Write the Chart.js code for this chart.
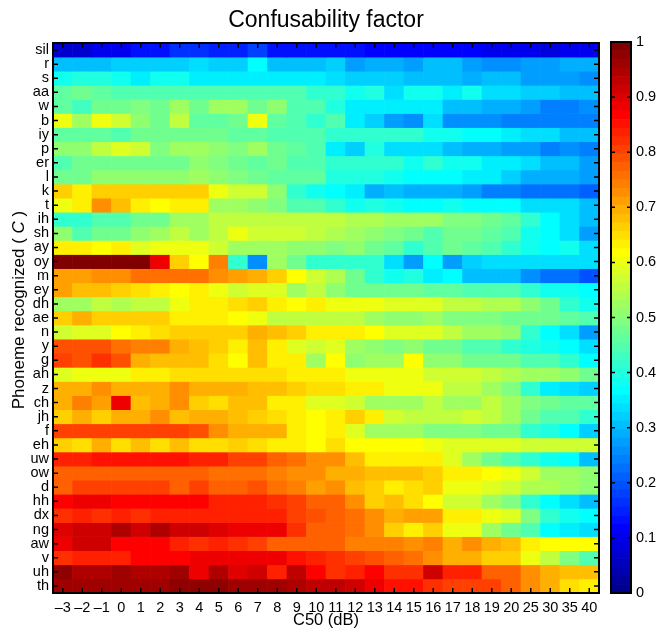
<!DOCTYPE html>
<html><head><meta charset="utf-8">
<script src="https://cdn.jsdelivr.net/npm/chart.js@4.4.0/dist/chart.umd.min.js"></script>
<style>
html,body{margin:0;padding:0;background:#fff;}
#wrap{position:relative;width:657px;height:630px;background:#fff;}
#heat{position:absolute;left:0;top:0;}
#cbar{position:absolute;left:600px;top:0;}
</style></head><body>
<div id="wrap"><canvas id="heat" width="657" height="630"></canvas><canvas id="cbar" width="57" height="630"></canvas></div>
<script>
// ---- data ----
const c50Labels = ['–3','–2','–1','0','1','2','3','4','5','6','7','8','9','10','11','12','13','14','15','16','17','18','19','20','25','30','35','40'];
const phonemes = ['sil','r','s','aa','w','b','iy','p','er','l','k','t','ih','sh','ay','oy','m','ey','dh','ae','n','y','g','ah','z','ch','jh','f','eh','uw','ow','d','hh','dx','ng','aw','v','uh','th'];
const cbarTicks = [0,0.1,0.2,0.3,0.4,0.5,0.6,0.7,0.8,0.9,1];

const ph_sil = [0.07,0.07,0.095,0.095,0.14,0.14,0.17,0.17,0.155,0.155,0.18,0.14,0.14,0.13,0.13,0.13,0.115,0.115,0.115,0.11,0.11,0.11,0.10,0.10,0.10,0.09,0.10,0.10];
const ph_r = [0.30,0.30,0.30,0.32,0.32,0.325,0.325,0.33,0.32,0.32,0.36,0.30,0.30,0.30,0.32,0.275,0.29,0.29,0.275,0.30,0.30,0.27,0.26,0.26,0.28,0.27,0.29,0.29];
const ph_s = [0.375,0.405,0.405,0.375,0.355,0.375,0.375,0.355,0.355,0.355,0.355,0.355,0.355,0.355,0.33,0.32,0.32,0.32,0.305,0.305,0.30,0.29,0.30,0.30,0.27,0.27,0.27,0.25];
const ph_aa = [0.455,0.47,0.455,0.45,0.44,0.45,0.45,0.45,0.45,0.45,0.44,0.44,0.44,0.42,0.42,0.375,0.40,0.34,0.375,0.375,0.35,0.375,0.34,0.33,0.32,0.32,0.30,0.30];
const ph_w = [0.455,0.43,0.48,0.47,0.49,0.47,0.52,0.48,0.52,0.52,0.47,0.5,0.44,0.44,0.40,0.355,0.355,0.355,0.355,0.355,0.30,0.30,0.285,0.285,0.275,0.235,0.235,0.26];
const ph_b = [0.6,0.53,0.6,0.57,0.5,0.47,0.55,0.46,0.46,0.48,0.6,0.46,0.44,0.42,0.44,0.35,0.32,0.28,0.26,0.33,0.26,0.25,0.25,0.235,0.235,0.235,0.24,0.24];
const ph_iy = [0.46,0.46,0.46,0.45,0.47,0.47,0.47,0.47,0.47,0.46,0.46,0.44,0.44,0.44,0.42,0.41,0.41,0.41,0.41,0.39,0.375,0.37,0.37,0.35,0.34,0.33,0.31,0.31];
const ph_p = [0.5,0.5,0.55,0.58,0.57,0.49,0.52,0.53,0.5,0.49,0.53,0.47,0.46,0.44,0.35,0.32,0.40,0.33,0.33,0.34,0.30,0.29,0.29,0.275,0.275,0.235,0.26,0.235];
const ph_er = [0.44,0.47,0.47,0.47,0.48,0.48,0.47,0.5,0.49,0.47,0.46,0.48,0.44,0.44,0.42,0.42,0.42,0.41,0.39,0.42,0.39,0.375,0.35,0.35,0.33,0.31,0.31,0.28];
const ph_l = [0.48,0.48,0.5,0.5,0.51,0.51,0.5,0.52,0.5,0.49,0.47,0.46,0.46,0.46,0.40,0.40,0.40,0.39,0.37,0.37,0.36,0.35,0.35,0.32,0.29,0.29,0.29,0.27];
const ph_k = [0.66,0.625,0.66,0.66,0.66,0.66,0.66,0.66,0.6,0.57,0.57,0.5,0.42,0.38,0.37,0.35,0.29,0.31,0.29,0.29,0.29,0.275,0.245,0.245,0.225,0.225,0.225,0.21];
const ph_t = [0.6,0.64,0.72,0.68,0.63,0.61,0.63,0.63,0.53,0.53,0.51,0.49,0.44,0.44,0.41,0.38,0.40,0.39,0.37,0.37,0.375,0.36,0.36,0.36,0.33,0.33,0.33,0.31];
const ph_ih = [0.42,0.42,0.45,0.45,0.48,0.48,0.53,0.53,0.55,0.55,0.55,0.55,0.55,0.55,0.55,0.54,0.54,0.52,0.52,0.52,0.49,0.49,0.47,0.46,0.41,0.37,0.34,0.31];
const ph_sh = [0.5,0.44,0.47,0.47,0.51,0.52,0.55,0.53,0.55,0.6,0.57,0.57,0.57,0.55,0.54,0.52,0.5,0.49,0.47,0.44,0.47,0.47,0.46,0.44,0.39,0.36,0.33,0.28];
const ph_ay = [0.625,0.625,0.62,0.63,0.58,0.6,0.6,0.6,0.57,0.53,0.52,0.53,0.5,0.5,0.49,0.5,0.47,0.46,0.42,0.44,0.47,0.46,0.44,0.41,0.375,0.37,0.375,0.33];
const ph_oy = [0.99,0.99,0.99,0.99,0.99,0.885,0.66,0.62,0.74,0.42,0.25,0.52,0.47,0.42,0.41,0.41,0.41,0.33,0.28,0.37,0.27,0.32,0.33,0.33,0.33,0.33,0.33,0.33];
const ph_m = [0.71,0.71,0.72,0.73,0.75,0.75,0.75,0.75,0.73,0.71,0.70,0.67,0.62,0.57,0.54,0.47,0.42,0.375,0.40,0.35,0.37,0.31,0.31,0.31,0.26,0.22,0.22,0.20];
const ph_ey = [0.71,0.68,0.68,0.66,0.645,0.63,0.62,0.63,0.6,0.57,0.58,0.58,0.52,0.55,0.5,0.48,0.48,0.47,0.47,0.46,0.46,0.44,0.44,0.44,0.41,0.375,0.375,0.36];
const ph_dh = [0.53,0.53,0.56,0.54,0.56,0.56,0.6,0.63,0.63,0.645,0.67,0.63,0.62,0.625,0.6,0.6,0.6,0.58,0.58,0.58,0.56,0.56,0.54,0.54,0.5,0.47,0.42,0.39];
const ph_ae = [0.66,0.69,0.66,0.66,0.66,0.66,0.63,0.625,0.625,0.61,0.6,0.56,0.55,0.55,0.56,0.56,0.53,0.5,0.51,0.53,0.49,0.49,0.49,0.47,0.47,0.47,0.46,0.45];
const ph_n = [0.57,0.59,0.59,0.62,0.625,0.645,0.66,0.67,0.67,0.67,0.69,0.68,0.66,0.64,0.625,0.625,0.61,0.59,0.59,0.59,0.56,0.53,0.52,0.5,0.41,0.36,0.33,0.28];
const ph_y = [0.79,0.79,0.79,0.76,0.74,0.74,0.69,0.68,0.66,0.625,0.68,0.625,0.58,0.57,0.59,0.52,0.5,0.49,0.5,0.47,0.47,0.44,0.44,0.42,0.40,0.375,0.36,0.33];
const ph_g = [0.8,0.79,0.82,0.79,0.69,0.68,0.68,0.68,0.65,0.62,0.68,0.64,0.64,0.53,0.61,0.5,0.53,0.53,0.61,0.5,0.5,0.48,0.48,0.47,0.44,0.44,0.42,0.37];
const ph_ah = [0.59,0.6,0.6,0.6,0.625,0.625,0.645,0.645,0.645,0.645,0.645,0.645,0.63,0.625,0.64,0.6,0.6,0.6,0.6,0.57,0.57,0.57,0.55,0.54,0.53,0.52,0.5,0.47];
const ph_z = [0.7,0.7,0.72,0.7,0.7,0.7,0.72,0.7,0.69,0.69,0.68,0.68,0.67,0.65,0.65,0.625,0.625,0.6,0.6,0.6,0.56,0.56,0.52,0.49,0.41,0.35,0.33,0.32];
const ph_ch = [0.7,0.74,0.71,0.88,0.68,0.7,0.73,0.66,0.645,0.68,0.68,0.625,0.64,0.58,0.58,0.57,0.53,0.53,0.53,0.55,0.52,0.53,0.55,0.52,0.49,0.48,0.46,0.46];
const ph_jh = [0.67,0.7,0.66,0.69,0.69,0.73,0.68,0.69,0.69,0.68,0.67,0.645,0.64,0.61,0.625,0.67,0.63,0.57,0.56,0.55,0.55,0.57,0.55,0.52,0.47,0.44,0.44,0.41];
const ph_f = [0.81,0.8,0.81,0.8,0.8,0.8,0.8,0.79,0.72,0.7,0.69,0.69,0.64,0.61,0.625,0.59,0.53,0.52,0.53,0.49,0.49,0.49,0.47,0.47,0.41,0.40,0.37,0.32];
const ph_eh = [0.66,0.645,0.7,0.65,0.68,0.65,0.68,0.645,0.645,0.66,0.645,0.625,0.625,0.62,0.645,0.61,0.61,0.61,0.61,0.6,0.59,0.59,0.59,0.59,0.57,0.57,0.57,0.57];
const ph_uw = [0.83,0.83,0.85,0.85,0.85,0.85,0.85,0.83,0.83,0.81,0.8,0.77,0.75,0.73,0.72,0.68,0.625,0.625,0.625,0.625,0.59,0.52,0.47,0.44,0.41,0.375,0.36,0.31];
const ph_ow = [0.78,0.78,0.78,0.78,0.77,0.77,0.77,0.77,0.75,0.75,0.75,0.74,0.73,0.72,0.7,0.69,0.68,0.68,0.68,0.67,0.625,0.625,0.62,0.6,0.57,0.52,0.52,0.5];
const ph_d = [0.78,0.8,0.8,0.8,0.8,0.81,0.78,0.8,0.78,0.77,0.79,0.76,0.74,0.71,0.72,0.68,0.66,0.625,0.645,0.67,0.6,0.6,0.59,0.57,0.54,0.54,0.52,0.5];
const ph_hh = [0.86,0.88,0.88,0.86,0.86,0.86,0.86,0.86,0.84,0.84,0.83,0.82,0.8,0.78,0.77,0.72,0.66,0.68,0.645,0.62,0.57,0.57,0.52,0.49,0.41,0.36,0.34,0.31];
const ph_dx = [0.82,0.83,0.82,0.83,0.82,0.84,0.84,0.84,0.84,0.84,0.84,0.84,0.8,0.79,0.78,0.75,0.73,0.7,0.71,0.71,0.625,0.625,0.6,0.58,0.49,0.41,0.375,0.37];
const ph_ng = [0.9,0.91,0.92,0.94,0.92,0.94,0.92,0.91,0.9,0.88,0.88,0.88,0.82,0.78,0.77,0.75,0.72,0.67,0.64,0.67,0.6,0.6,0.53,0.47,0.44,0.37,0.35,0.34];
const ph_aw = [0.88,0.91,0.91,0.87,0.87,0.87,0.83,0.82,0.83,0.82,0.8,0.77,0.78,0.77,0.77,0.74,0.74,0.74,0.72,0.74,0.7,0.72,0.69,0.68,0.64,0.61,0.61,0.61];
const ph_v = [0.82,0.83,0.83,0.83,0.87,0.87,0.87,0.88,0.88,0.88,0.88,0.88,0.85,0.83,0.82,0.81,0.79,0.78,0.75,0.73,0.7,0.7,0.67,0.67,0.6,0.55,0.49,0.44];
const ph_uh = [0.97,0.95,0.95,0.96,0.94,0.94,0.96,0.88,0.94,0.9,0.92,0.84,0.93,0.86,0.82,0.84,0.87,0.82,0.82,0.91,0.84,0.84,0.78,0.77,0.72,0.7,0.68,0.68];
const ph_th = [0.96,0.96,0.96,0.96,0.96,0.96,0.97,0.97,0.97,0.96,0.96,0.96,0.95,0.93,0.93,0.91,0.88,0.85,0.85,0.82,0.8,0.81,0.81,0.78,0.73,0.7,0.65,0.625];

const matrix = [ph_sil,ph_r,ph_s,ph_aa,ph_w,ph_b,ph_iy,ph_p,ph_er,ph_l,ph_k,ph_t,ph_ih,ph_sh,ph_ay,ph_oy,ph_m,ph_ey,ph_dh,ph_ae,ph_n,ph_y,ph_g,ph_ah,ph_z,ph_ch,ph_jh,ph_f,ph_eh,ph_uw,ph_ow,ph_d,ph_hh,ph_dx,ph_ng,ph_aw,ph_v,ph_uh,ph_th];

// ---- jet(64) colormap ----
const NLEV = 64;
function jetLevel(k) { // k = 1..64
  const x = k / NLEV;
  const cl = t => Math.max(0, Math.min(1, t));
  const r = cl(1.5 - Math.abs(4 * x - 3));
  const g = cl(1.5 - Math.abs(4 * x - 2));
  const b = cl(1.5 - Math.abs(4 * x - 1));
  return 'rgb(' + Math.round(r * 255) + ',' + Math.round(g * 255) + ',' + Math.round(b * 255) + ')';
}
function jet(v) {
  const i = Math.max(0, Math.min(NLEV - 1, Math.floor(v * NLEV)));
  return jetLevel(i + 1);
}

const FONT = '"Liberation Sans", Arial, Helvetica, sans-serif';
Chart.defaults.font.family = FONT;
Chart.defaults.color = '#000';

// ---- heatmap ----
const heatFrame = {
  id: 'heatFrame',
  afterDraw(chart) {
    const {ctx, chartArea: a, scales} = chart;
    ctx.save();
    ctx.strokeStyle = '#000';
    ctx.lineWidth = 1.5;
    const tl = 5;
    ctx.beginPath();
    c50Labels.forEach((_, i) => {
      const px = scales.x.getPixelForValue(i);
      ctx.moveTo(px, a.top); ctx.lineTo(px, a.top + tl);
      ctx.moveTo(px, a.bottom); ctx.lineTo(px, a.bottom - tl);
    });
    phonemes.forEach((_, j) => {
      const py = scales.y.getPixelForValue(j + 0.5);
      ctx.moveTo(a.left, py); ctx.lineTo(a.left + tl, py);
      ctx.moveTo(a.right, py); ctx.lineTo(a.right - tl, py);
    });
    ctx.stroke();
    ctx.lineWidth = 2;
    ctx.strokeRect(a.left, a.top, a.right - a.left, a.bottom - a.top);
    // y-axis title with italic C
    const parts = [['Phoneme recognized ( ', 'normal'], ['C', 'italic'], [' )', 'normal']];
    const size = 17;
    let total = 0;
    parts.forEach(p => { ctx.font = p[1] + ' ' + size + 'px ' + FONT; total += ctx.measureText(p[0]).width; });
    ctx.translate(24, 310);
    ctx.rotate(-Math.PI / 2);
    ctx.fillStyle = '#000';
    ctx.textBaseline = 'alphabetic';
    ctx.textAlign = 'left';
    let x = -total / 2;
    parts.forEach(p => {
      ctx.font = p[1] + ' ' + size + 'px ' + FONT;
      ctx.fillText(p[0], x, 0);
      x += ctx.measureText(p[0]).width;
    });
    ctx.restore();
  }
};

new Chart(document.getElementById('heat'), {
  type: 'bar',
  data: {
    labels: c50Labels,
    datasets: phonemes.map((name, j) => ({
      label: name,
      data: c50Labels.map(() => 1),
      backgroundColor: matrix[j].map(jet),
      borderWidth: 0,
      barPercentage: 1,
      categoryPercentage: 1,
      stack: 'rows'
    }))
  },
  options: {
    responsive: false,
    animation: false,
    devicePixelRatio: 1,
    events: [],
    layout: { padding: { left: 0, right: 58, top: 0, bottom: 0 } },
    plugins: {
      legend: { display: false },
      tooltip: { enabled: false },
      title: {
        display: true,
        text: 'Confusability factor',
        fullSize: false,
        color: '#000',
        font: { size: 23, weight: 'normal', family: FONT },
        padding: { top: 7, bottom: 8.4 }
      }
    },
    scales: {
      x: {
        stacked: true,
        grid: { display: false, drawTicks: false },
        border: { display: false },
        ticks: { autoSkip: false, maxRotation: 0, minRotation: 0, padding: 6, font: { size: 14.5 }, color: '#000' },
        title: { display: true, text: 'C50 (dB)', color: '#000', font: { size: 16.5 }, padding: { top: 0, bottom: 0 } },
        afterFit(s) { s.height = 37; }
      },
      y: {
        stacked: true,
        reverse: true,
        min: 0,
        max: phonemes.length,
        grid: { display: false, drawTicks: false },
        border: { display: false },
        afterBuildTicks(s) { s.ticks = phonemes.map((_, j) => ({ value: j + 0.5 })); },
        ticks: {
          autoSkip: false,
          padding: 4,
          font: { size: 14.5 },
          color: '#000',
          callback: v => phonemes[Math.floor(v)]
        },
        afterFit(s) { s.width = 53; }
      }
    }
  },
  plugins: [heatFrame]
});

// ---- colorbar ----
const cbarFrame = {
  id: 'cbarFrame',
  afterDraw(chart) {
    const {ctx, chartArea: a, scales} = chart;
    ctx.save();
    ctx.strokeStyle = '#000';
    ctx.lineWidth = 1.5;
    const tl = 4;
    ctx.beginPath();
    cbarTicks.forEach(v => {
      const py = scales.y.getPixelForValue(v);
      ctx.moveTo(a.left, py); ctx.lineTo(a.left + tl, py);
      ctx.moveTo(a.right, py); ctx.lineTo(a.right - tl, py);
    });
    ctx.stroke();
    ctx.lineWidth = 2;
    ctx.strokeRect(a.left, a.top, a.right - a.left, a.bottom - a.top);
    ctx.restore();
  }
};

const levels = Array.from({ length: NLEV }, (_, i) => i);
new Chart(document.getElementById('cbar'), {
  type: 'bar',
  data: {
    labels: [''],
    datasets: levels.map(i => ({
      data: [[i / NLEV, (i + 1) / NLEV]],
      backgroundColor: jetLevel(i + 1),
      borderWidth: 0,
      barPercentage: 1,
      categoryPercentage: 1,
      grouped: false
    }))
  },
  options: {
    responsive: false,
    animation: false,
    devicePixelRatio: 1,
    events: [],
    layout: { padding: { left: 11, right: 0, top: 42, bottom: 37 } },
    plugins: { legend: { display: false }, tooltip: { enabled: false } },
    scales: {
      x: { display: false },
      y: {
        position: 'right',
        min: 0,
        max: 1,
        grid: { display: false, drawTicks: false },
        border: { display: false },
        afterBuildTicks(s) { s.ticks = cbarTicks.map(v => ({ value: v })); },
        ticks: {
          autoSkip: false,
          padding: 5,
          font: { size: 14.5 },
          color: '#000',
          callback: v => (v === 0 ? '0' : v === 1 ? '1' : v.toFixed(1))
        },
        afterFit(s) { s.width = 26; }
      }
    }
  },
  plugins: [cbarFrame]
});
</script>
</body></html>
